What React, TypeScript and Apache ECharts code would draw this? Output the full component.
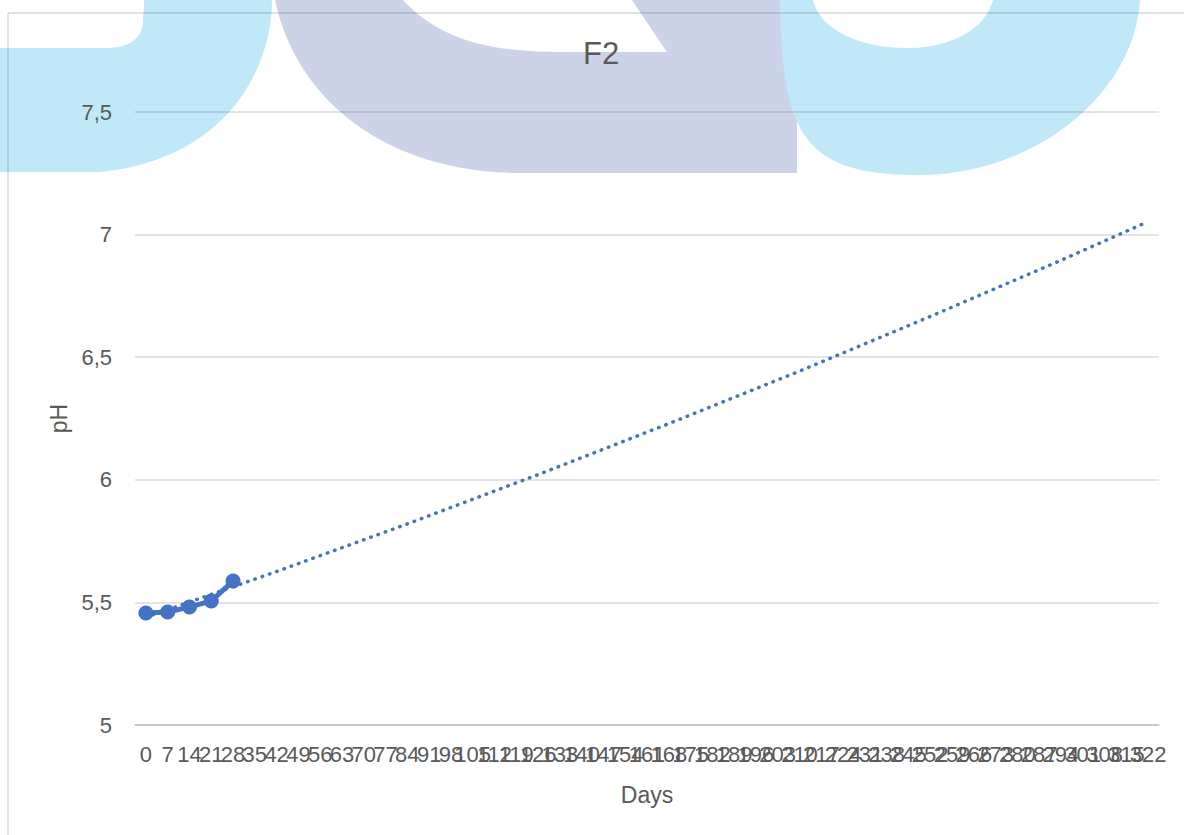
import React, { useEffect, useRef } from "react";
import * as echarts from "echarts";

// X categories (days)
const days = [
  "0", "7", "14", "21", "28", "35", "42", "49", "56", "63", "70", "77", "84", "91", "98",
  "105", "112", "119", "126", "133", "140", "147", "154", "161", "168", "175", "182", "189",
  "196", "203", "210", "217", "224", "231", "238", "245", "252", "259", "266", "273", "280",
  "287", "294", "301", "308", "315", "322",
];

// Measured pH (days 0..28)
const phDays = ["0", "7", "14", "21", "28"];
const phValues = [5.457, 5.461, 5.481, 5.506, 5.587];

// Dotted trend line
const trendDays = ["0", "42", "84", "126", "168", "210", "252", "294", "322"];
const trendValues = [5.439, 5.626, 5.82, 6.021, 6.229, 6.443, 6.666, 6.895, 7.053];

const yTicks = [5, 5.5, 6, 6.5, 7, 7.5];

const FONT = "Liberation Sans, Arial, sans-serif";
const TEXT = "#595959";
const GRID = "rgba(0,0,0,0.15)";
const BLUE = "#4472C4";

const wmA =
  "M-10 48 L105 48 C130 48 143 38 143 20 L145 -10 L275 -10 L272 0 C272 70 225 160 100 172 L-10 172 Z";
const wmB =
  "M273 -10 L275 0 C295 95 380 172 520 173 L797 173 L797 -10 L625 -10 L667 52 L560 52 C490 52 440 40 403 0 L398 -10 Z";
const wmC =
  "M778 -10 L780 0 C782 130 800 175 917 175 C1040 175 1135 90 1140 0 L1141 -10 L990 -10 L993 0 C985 30 950 48 907 48 C860 48 820 30 813 0 L810 -10 Z";

function buildData(keys: string[], vals: number[]) {
  return days.map((d) => {
    const i = keys.indexOf(d);
    return i >= 0 ? vals[i] : null;
  });
}

export default function App() {
  const ref = useRef<HTMLDivElement>(null);
  useEffect(() => {
    if (!ref.current) return;
    echarts.graphic.registerShape("wmA", echarts.graphic.extendPath(wmA, {}) as any);
    echarts.graphic.registerShape("wmB", echarts.graphic.extendPath(wmB, {}) as any);
    echarts.graphic.registerShape("wmC", echarts.graphic.extendPath(wmC, {}) as any);
    const chart = echarts.init(ref.current, undefined, { renderer: "svg" });
    chart.setOption({
      animation: false,
      backgroundColor: "transparent",
      title: {
        text: "F2",
        left: 583,
        top: 38,
        padding: 0,
        textStyle: { fontFamily: FONT, fontSize: 31, fontWeight: "normal", color: TEXT },
      },
      graphic: [
        { type: "wmA", x: 0, y: 0, z: -10, silent: true, style: { fill: "#C0E8F8" } },
        { type: "wmB", x: 0, y: 0, z: -10, silent: true, style: { fill: "#CCD2E8" } },
        { type: "wmC", x: 0, y: 0, z: -9, silent: true, style: { fill: "#C0E8F8" } },
        { type: "line", z: 100, silent: true, shape: { x1: 8, y1: 13, x2: 1184, y2: 13 }, style: { stroke: GRID, lineWidth: 1.5 } },
        { type: "line", z: 100, silent: true, shape: { x1: 8, y1: 13, x2: 8, y2: 835 }, style: { stroke: GRID, lineWidth: 1.5 } },
      ],
      grid: { left: 135, right: 25, top: 112, bottom: 110, containLabel: false },
      xAxis: {
        type: "category",
        data: days,
        boundaryGap: true,
        name: "Days",
        nameLocation: "middle",
        nameGap: 58,
        nameTextStyle: { fontFamily: FONT, fontSize: 23, color: TEXT },
        axisLine: { lineStyle: { color: GRID, width: 1.5 } },
        axisTick: { show: false },
        axisLabel: {
          interval: 0,
          hideOverlap: false,
          margin: 18,
          fontFamily: FONT,
          fontSize: 22,
          color: TEXT,
        },
      },
      yAxis: {
        type: "value",
        min: yTicks[0],
        max: yTicks[yTicks.length - 1],
        interval: 0.5,
        name: "pH",
        nameLocation: "middle",
        nameGap: 62,
        nameTextStyle: { fontFamily: FONT, fontSize: 23, color: TEXT },
        axisLine: { show: false },
        axisTick: { show: false },
        splitLine: { lineStyle: { color: GRID, width: 1.5 } },
        axisLabel: {
          margin: 23,
          fontFamily: FONT,
          fontSize: 22,
          color: TEXT,
          formatter: (v: number) => String(v).replace(".", ","),
        },
      },
      series: [
        {
          type: "line",
          name: "Trend",
          data: buildData(trendDays, trendValues),
          connectNulls: true,
          showSymbol: false,
          symbol: "none",
          z: 2,
          lineStyle: { color: BLUE, width: 3.5, type: [0.5, 7.2], cap: "round" },
        },
        {
          type: "line",
          name: "F2",
          data: buildData(phDays, phValues),
          symbol: "circle",
          symbolSize: 15,
          z: 3,
          itemStyle: { color: BLUE },
          lineStyle: { color: BLUE, width: 5 },
        },
      ],
    });
    return () => chart.dispose();
  }, []);
  return (
    <div
      ref={ref}
      style={{ position: "fixed", left: 0, top: 0, width: 1184, height: 835, background: "#fff" }}
    />
  );
}
